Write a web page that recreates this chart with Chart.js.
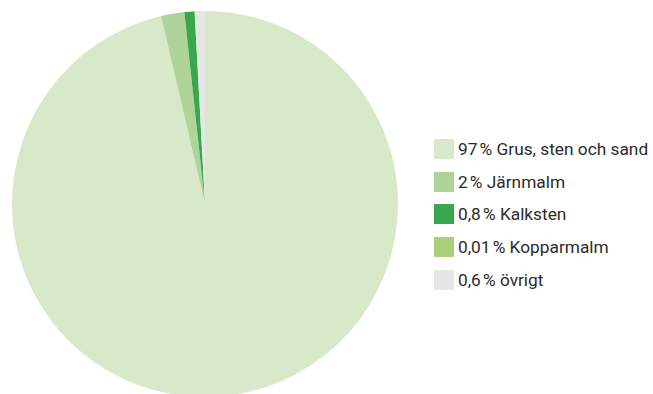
<!DOCTYPE html>
<html lang="sv">
<head>
    <meta charset="UTF-8">
    <title>Pie</title>
    <script src="https://cdn.jsdelivr.net/npm/chart.js"></script>
    <style>
        body { margin: 0; width: 653px; height: 394px; overflow: hidden; background: #fff; position: relative; font-family: Roboto, sans-serif; }
        .pie-box { position: absolute; left: 12px; top: 11px; width: 386px; height: 386px; }
        .legend { position: absolute; left: 434px; top: 139px; }
        .legend-item { display: flex; align-items: center; height: 20px; margin-bottom: 12.7px; font-size: 17.3px; color: #2b2b2b; white-space: nowrap; }
        .legend-item span.sw { width: 20px; height: 20px; margin-right: 4px; flex: none; }
    </style>
</head>
<body>
    <div class="pie-box"><canvas id="pie"></canvas></div>
    <div class="legend" id="legend"></div>

    <script>
        const labels = ['97\u202F% Grus, sten och sand', '2\u202F% Järnmalm', '0,8\u202F% Kalksten', '0,01\u202F% Kopparmalm', '0,6\u202F% övrigt'];
        // slice sizes as drawn in the picture (small slices slightly wider than labelled)
        const values = [96.3, 1.95, 0.85, 0.01, 0.85];
        const colors = ['#d8e9c9', '#afd49a', '#3aa74f', '#a9d07b', '#e6e6e6'];

        new Chart(document.getElementById('pie'), {
            type: 'pie',
            data: {
                labels: labels,
                datasets: [{ data: values, backgroundColor: colors, borderWidth: 0 }]
            },
            options: {
                responsive: true,
                maintainAspectRatio: false,
                animation: false,
                plugins: { legend: { display: false }, tooltip: { enabled: false } }
            }
        });

        // legend on the right
        const legend = document.getElementById('legend');
        labels.forEach((l, i) => {
            const row = document.createElement('div');
            row.className = 'legend-item';
            row.innerHTML = `<span class="sw" style="background:${colors[i]}"></span>`;
            row.appendChild(document.createTextNode(l));
            legend.appendChild(row);
        });
    </script>
</body>
</html>
